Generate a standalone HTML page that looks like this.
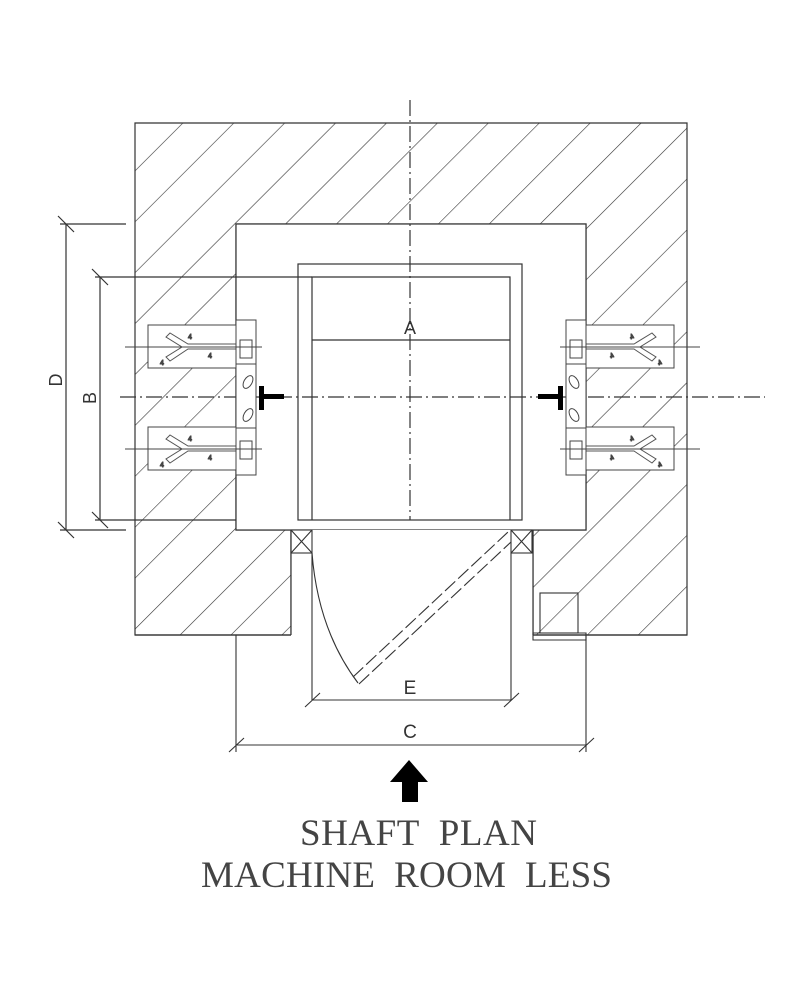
<!DOCTYPE html>
<html><head><meta charset="utf-8"><style>html,body{margin:0;padding:0;background:#fff}svg{display:block}</style></head>
<body>
<svg width="800" height="1000" viewBox="0 0 800 1000" xmlns="http://www.w3.org/2000/svg">
<defs>
<pattern id="h" patternUnits="userSpaceOnUse" width="36" height="36" patternTransform="rotate(45)">
<line x1="0" y1="0" x2="0" y2="36" stroke="#333" stroke-width="1.2"/>
</pattern>
<g id="blk">
<rect x="0" y="0" width="88" height="43" fill="#fff" stroke="#444"/>
<path d="M88 19 H40 L22 8 L18 12 L34 22 L18 32 L22 36 L40 24 H88" fill="none" stroke="#555"/>
<text x="40" y="14" font-size="7" fill="#555" font-family="Liberation Sans">4</text>
<text x="60" y="33" font-size="7" fill="#555" font-family="Liberation Sans">4</text>
<text x="12" y="40" font-size="7" fill="#555" font-family="Liberation Sans">4</text>
</g>
</defs>
<g fill="none" stroke="#333" stroke-width="1.2">
<path d="M135 123 H687 V635 H533 V530 H291 V635 H135 Z M236 224 V530 H586 V224 Z" fill="url(#h)" fill-rule="evenodd" stroke="#333"/>
<rect x="236" y="224" width="350" height="306" fill="#fff"/>
<rect x="291" y="530" width="242" height="106" fill="#fff" stroke="none"/>
<path d="M291 530 V635 M533 530 V635 M135 635 H291 M533 635 H687"/>
<rect x="298" y="264" width="224" height="256"/>
<path d="M312 520 V277 H510 V520"/>
<path d="M312 340 H510"/>
<path d="M95 277 H312"/>
<path d="M410 100 V520" stroke-dasharray="16 4 2 4"/>
<path d="M120 397 H765" stroke-dasharray="16 4 2 4"/>
<path d="M60 224 H126 M66 224 V530 M60 530 H126 M58 216 L74 232 M58 522 L74 538"/>
<path d="M100 277 V520 M95 520 H236 M92 269 L108 285 M92 512 L108 528"/>
</g>
<text x="62" y="380" font-size="18" font-family="Liberation Sans" fill="#333" transform="rotate(-90 62 380)" text-anchor="middle">D</text>
<text x="96" y="398" font-size="18" font-family="Liberation Sans" fill="#333" transform="rotate(-90 96 398)" text-anchor="middle">B</text>
<text x="410" y="334" font-size="18" font-family="Liberation Sans" fill="#333" text-anchor="middle">A</text>
<g stroke="#444" fill="#fff">
<use href="#blk" x="148" y="325"/>
<use href="#blk" x="148" y="427"/>
<g transform="translate(822 0) scale(-1 1)"><use href="#blk" x="148" y="325"/><use href="#blk" x="148" y="427"/></g>
<rect x="236" y="320" width="20" height="155"/>
<rect x="240" y="340" width="12" height="18"/>
<rect x="240" y="441" width="12" height="18"/>
<rect x="236" y="364" width="20" height="64"/>
<ellipse cx="248" cy="382" rx="4" ry="7" transform="rotate(30 248 382)"/>
<ellipse cx="248" cy="415" rx="4" ry="7" transform="rotate(30 248 415)"/>
<rect x="566" y="320" width="20" height="155"/>
<rect x="570" y="340" width="12" height="18"/>
<rect x="570" y="441" width="12" height="18"/>
<rect x="566" y="364" width="20" height="64"/>
<ellipse cx="574" cy="382" rx="4" ry="7" transform="rotate(-30 574 382)"/>
<ellipse cx="574" cy="415" rx="4" ry="7" transform="rotate(-30 574 415)"/>
</g>
<g stroke="#444" stroke-width="1"><path d="M125 347 H262 M125 449 H262 M560 347 H700 M560 449 H700"/></g>
<rect x="259" y="386" width="5" height="24" fill="#000"/><rect x="264" y="394" width="20" height="5" fill="#000"/>
<rect x="558" y="386" width="5" height="24" fill="#000"/><rect x="538" y="394" width="20" height="5" fill="#000"/>
<g fill="none" stroke="#333" stroke-width="1.1">
<rect x="291" y="530" width="21" height="23"/><path d="M291 530 L312 553 M312 530 L291 553"/>
<rect x="511" y="530" width="21" height="23"/><path d="M511 530 L532 553 M532 530 L511 553"/>
<path d="M312 553 V700 M511 553 V700"/>
<path d="M312 553 Q318 630 358 683"/>
<path d="M353 677 L508 532 M359 684 L511 542" stroke-dasharray="14 4"/>
<path d="M312 700 H511 M305 707 L320 693 M504 707 L519 693"/>
<path d="M236 635 V752 M586 635 V752 M236 745 H586 M229 752 L244 738 M579 752 L594 738"/>
<rect x="540" y="593" width="38" height="40"/>
<path d="M533 633 H586 V640 H533 Z"/>
</g>
<text x="410" y="694" font-size="19" font-family="Liberation Sans" fill="#333" text-anchor="middle">E</text>
<text x="410" y="738" font-size="19" font-family="Liberation Sans" fill="#333" text-anchor="middle">C</text>
<path d="M390 782 L409 760 L428 782 H418 V802 H402 V782 Z" fill="#000"/>
<text x="300" y="845" font-size="37" font-family="Liberation Serif" fill="#444" textLength="237" lengthAdjust="spacing" xml:space="preserve">SHAFT  PLAN</text>
<text x="201" y="887" font-size="37" font-family="Liberation Serif" fill="#444" textLength="411" lengthAdjust="spacing" xml:space="preserve">MACHINE  ROOM  LESS</text>
</svg>
</body></html>
